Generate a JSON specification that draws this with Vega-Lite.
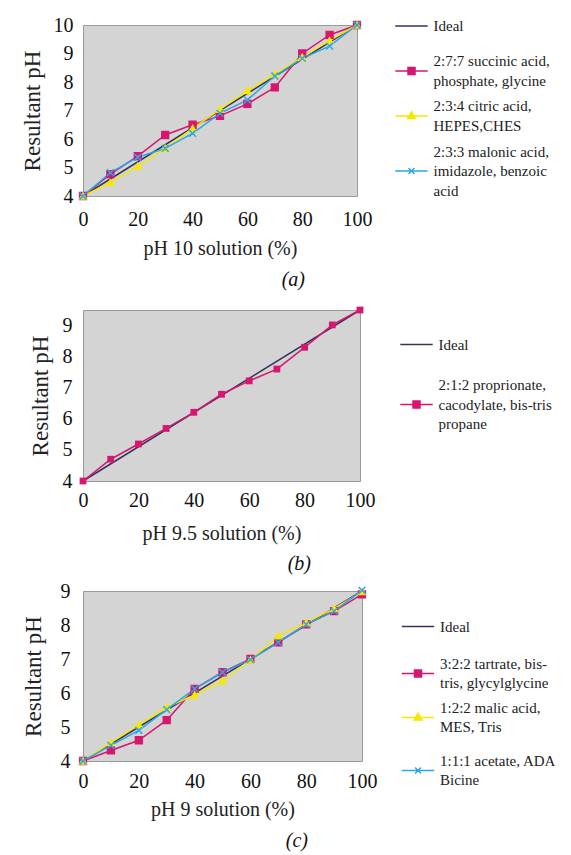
{
  "$schema": "https://vega.github.io/schema/vega-lite/v6.json",
  "padding": {"left": 20, "top": 5, "right": 0, "bottom": 0},
  "background": "white",
  "config": {
    "font": "Liberation Serif",
    "view": {"fill": "#d4d4d4", "stroke": "#9a9a9a", "strokeWidth": 1},
    "axis": {"grid": false, "domain": false, "ticks": false, "labelFlush": false, "labelFontSize": 20, "labelColor": "#111", "titleFontSize": 20, "titleFontWeight": "normal", "titleColor": "#222", "labelFont": "Liberation Serif", "titleFont": "Liberation Serif"},
    "axisY": {"titleFontSize": 23},
    "title": {"fontSize": 20, "fontStyle": "italic", "fontWeight": "normal", "color": "#111", "font": "Liberation Serif", "frame": "group"},
    "legend": {"labelFont": "Liberation Serif", "labelFontSize": 15, "labelColor": "#222", "labelLimit": 400, "symbolSize": 1521, "labelOffset": 1.5, "rowPadding": -2}
  },
  "resolve": {"scale": {"color": "independent", "shape": "independent", "stroke": "independent"}, "legend": {"color": "independent"}},
  "vconcat": [
    {
      "spacing": 15,
      "resolve": {"scale": {"color": "independent", "shape": "independent", "stroke": "independent"}, "legend": {"color": "independent"}},
      "vconcat": [
        {
          "width": 274, "height": 171,
          "title": {"text": "(a)", "orient": "bottom", "anchor": "end", "dx": -52, "offset": 12},
          "data": {"values": [
            {"series": "Ideal", "pct": 0, "ph": 4}, {"series": "Ideal", "pct": 100, "ph": 10},
            {"series": "2:7:7 succinic acid,|phosphate, glycine", "pct": 0, "ph": 4},
            {"series": "2:7:7 succinic acid,|phosphate, glycine", "pct": 10, "ph": 4.77},
            {"series": "2:7:7 succinic acid,|phosphate, glycine", "pct": 20, "ph": 5.4},
            {"series": "2:7:7 succinic acid,|phosphate, glycine", "pct": 30, "ph": 6.14},
            {"series": "2:7:7 succinic acid,|phosphate, glycine", "pct": 40, "ph": 6.5},
            {"series": "2:7:7 succinic acid,|phosphate, glycine", "pct": 50, "ph": 6.81},
            {"series": "2:7:7 succinic acid,|phosphate, glycine", "pct": 60, "ph": 7.23},
            {"series": "2:7:7 succinic acid,|phosphate, glycine", "pct": 70, "ph": 7.81},
            {"series": "2:7:7 succinic acid,|phosphate, glycine", "pct": 80, "ph": 9.0},
            {"series": "2:7:7 succinic acid,|phosphate, glycine", "pct": 90, "ph": 9.65},
            {"series": "2:7:7 succinic acid,|phosphate, glycine", "pct": 100, "ph": 10},
            {"series": "2:3:4 citric acid,|HEPES,CHES", "pct": 0, "ph": 4},
            {"series": "2:3:4 citric acid,|HEPES,CHES", "pct": 10, "ph": 4.47},
            {"series": "2:3:4 citric acid,|HEPES,CHES", "pct": 20, "ph": 5.05},
            {"series": "2:3:4 citric acid,|HEPES,CHES", "pct": 30, "ph": 5.67},
            {"series": "2:3:4 citric acid,|HEPES,CHES", "pct": 40, "ph": 6.37},
            {"series": "2:3:4 citric acid,|HEPES,CHES", "pct": 50, "ph": 7.04},
            {"series": "2:3:4 citric acid,|HEPES,CHES", "pct": 60, "ph": 7.7},
            {"series": "2:3:4 citric acid,|HEPES,CHES", "pct": 70, "ph": 8.28},
            {"series": "2:3:4 citric acid,|HEPES,CHES", "pct": 80, "ph": 8.87},
            {"series": "2:3:4 citric acid,|HEPES,CHES", "pct": 90, "ph": 9.45},
            {"series": "2:3:4 citric acid,|HEPES,CHES", "pct": 100, "ph": 10},
            {"series": "2:3:3 malonic acid,|imidazole, benzoic|acid", "pct": 0, "ph": 4},
            {"series": "2:3:3 malonic acid,|imidazole, benzoic|acid", "pct": 10, "ph": 4.82},
            {"series": "2:3:3 malonic acid,|imidazole, benzoic|acid", "pct": 20, "ph": 5.36},
            {"series": "2:3:3 malonic acid,|imidazole, benzoic|acid", "pct": 30, "ph": 5.67},
            {"series": "2:3:3 malonic acid,|imidazole, benzoic|acid", "pct": 40, "ph": 6.2},
            {"series": "2:3:3 malonic acid,|imidazole, benzoic|acid", "pct": 50, "ph": 6.9},
            {"series": "2:3:3 malonic acid,|imidazole, benzoic|acid", "pct": 60, "ph": 7.37},
            {"series": "2:3:3 malonic acid,|imidazole, benzoic|acid", "pct": 70, "ph": 8.21},
            {"series": "2:3:3 malonic acid,|imidazole, benzoic|acid", "pct": 80, "ph": 8.83},
            {"series": "2:3:3 malonic acid,|imidazole, benzoic|acid", "pct": 90, "ph": 9.26},
            {"series": "2:3:3 malonic acid,|imidazole, benzoic|acid", "pct": 100, "ph": 10}
          ]},
          "encoding": {
            "x": {"field": "pct", "type": "quantitative", "scale": {"domain": [0, 100], "nice": false}, "axis": {"values": [0, 20, 40, 60, 80, 100], "title": "pH 10 solution (%)", "labelPadding": 13, "titlePadding": 9}},
            "y": {"field": "ph", "type": "quantitative", "scale": {"domain": [4, 10], "nice": false, "zero": false}, "axis": {"values": [4, 5, 6, 7, 8, 9, 10], "title": "Resultant pH", "labelPadding": 10, "titlePadding": 9}},
            "color": {"field": "series", "type": "nominal", "sort": null,
              "scale": {"domain": ["Ideal", "2:7:7 succinic acid,|phosphate, glycine", "2:3:4 citric acid,|HEPES,CHES", "2:3:3 malonic acid,|imidazole, benzoic|acid"], "range": ["#35325f", "#d6166f", "#f5e800", "#2aa8e8"]},
              "legend": {"title": null, "orient": "none", "legendX": 308, "legendY": -19.5, "labelExpr": "split(datum.label, '|')",
                "encode": {
                  "symbols": {"update": {
                    "shape": {"signal": "datum.index == 0 ? 'M-0.83,0H0.83M0,1.07L0,1.07' : datum.index == 1 ? 'M-0.83,0H0.83M-0.18,-0.18H0.18V0.18H-0.18ZM0,1.1L0,1.1' : datum.index == 2 ? 'M-0.83,0H0.83M0,-0.22L0.2,0.13H-0.2ZM0,1.38L0,1.38' : 'M-0.83,0H0.83M-0.15,-0.15L0.15,0.15M-0.15,0.15L0.15,-0.15'"},
                    "stroke": {"signal": "datum.index == 0 ? '#6a6290' : datum.index == 1 ? '#d6166f' : datum.index == 2 ? '#f5e800' : '#2aa8e8'"},
                    "fill": {"signal": "datum.index == 1 ? '#d6166f' : datum.index == 2 ? '#f5e800' : 'transparent'"},
                    "strokeWidth": {"value": 1.5}, "opacity": {"value": 1}
                  }},
                  "labels": {"update": {"lineHeight": {"value": 19.5}, "dy": {"signal": "-(length(split(datum.label, '|')) - 1) * 9.75"}}}
                }}
            }
          },
          "layer": [
            {"mark": {"type": "line", "strokeWidth": 1.5}},
            {"transform": [{"filter": "datum.series != 'Ideal'"}],
             "mark": {"type": "point", "filled": true, "opacity": 1, "strokeWidth": 1.5},
             "encoding": {
               "shape": {"field": "series", "type": "nominal", "scale": {"domain": ["2:7:7 succinic acid,|phosphate, glycine", "2:3:4 citric acid,|HEPES,CHES", "2:3:3 malonic acid,|imidazole, benzoic|acid"], "range": ["square", "triangle-up", "M-1,-1L1,1M-1,1L1,-1"]}, "legend": null},
               "stroke": {"field": "series", "type": "nominal", "scale": {"domain": ["2:7:7 succinic acid,|phosphate, glycine", "2:3:4 citric acid,|HEPES,CHES", "2:3:3 malonic acid,|imidazole, benzoic|acid"], "range": ["#d6166f", "#f5e800", "#2aa8e8"]}, "legend": null},
               "size": {"value": 46}
             }}
          ]
        },
        {
          "width": 277, "height": 171,
          "title": {"text": "(b)", "orient": "bottom", "anchor": "end", "dx": -49, "offset": 11},
          "data": {"values": [
            {"series": "Ideal", "pct": 0, "ph": 4}, {"series": "Ideal", "pct": 100, "ph": 9.5},
            {"series": "2:1:2 proprionate,|cacodylate, bis-tris|propane", "pct": 0, "ph": 4},
            {"series": "2:1:2 proprionate,|cacodylate, bis-tris|propane", "pct": 10, "ph": 4.7},
            {"series": "2:1:2 proprionate,|cacodylate, bis-tris|propane", "pct": 20, "ph": 5.19},
            {"series": "2:1:2 proprionate,|cacodylate, bis-tris|propane", "pct": 30, "ph": 5.69},
            {"series": "2:1:2 proprionate,|cacodylate, bis-tris|propane", "pct": 40, "ph": 6.21},
            {"series": "2:1:2 proprionate,|cacodylate, bis-tris|propane", "pct": 50, "ph": 6.79},
            {"series": "2:1:2 proprionate,|cacodylate, bis-tris|propane", "pct": 60, "ph": 7.22},
            {"series": "2:1:2 proprionate,|cacodylate, bis-tris|propane", "pct": 70, "ph": 7.6},
            {"series": "2:1:2 proprionate,|cacodylate, bis-tris|propane", "pct": 80, "ph": 8.3},
            {"series": "2:1:2 proprionate,|cacodylate, bis-tris|propane", "pct": 90, "ph": 9.02},
            {"series": "2:1:2 proprionate,|cacodylate, bis-tris|propane", "pct": 100, "ph": 9.5}
          ]},
          "encoding": {
            "x": {"field": "pct", "type": "quantitative", "scale": {"domain": [0, 100], "nice": false}, "axis": {"values": [0, 20, 40, 60, 80, 100], "title": "pH 9.5 solution (%)", "labelPadding": 9, "titlePadding": 13}},
            "y": {"field": "ph", "type": "quantitative", "scale": {"domain": [4, 9.5], "nice": false, "zero": false}, "axis": {"values": [4, 5, 6, 7, 8, 9], "title": "Resultant pH", "labelPadding": 11, "titlePadding": 10}},
            "color": {"field": "series", "type": "nominal", "sort": null,
              "scale": {"domain": ["Ideal", "2:1:2 proprionate,|cacodylate, bis-tris|propane"], "range": ["#35325f", "#d6166f"]},
              "legend": {"title": null, "orient": "none", "legendX": 313, "legendY": 14, "labelExpr": "split(datum.label, '|')",
                "encode": {
                  "symbols": {"update": {
                    "shape": {"signal": "datum.index == 0 ? 'M-0.83,0H0.83M0,1.65L0,1.65' : 'M-0.83,0H0.83M-0.18,-0.18H0.18V0.18H-0.18Z'"},
                    "stroke": {"signal": "datum.index == 0 ? '#6a6290' : '#d6166f'"},
                    "fill": {"signal": "datum.index == 1 ? '#d6166f' : 'transparent'"},
                    "strokeWidth": {"value": 1.5}, "opacity": {"value": 1}
                  }},
                  "labels": {"update": {"lineHeight": {"value": 19.5}, "dy": {"signal": "-(length(split(datum.label, '|')) - 1) * 9.75"}}}
                }}
            }
          },
          "layer": [
            {"mark": {"type": "line", "strokeWidth": 1.5}},
            {"transform": [{"filter": "datum.series != 'Ideal'"}],
             "mark": {"type": "point", "filled": true, "opacity": 1, "shape": "square", "size": 46}}
          ]
        }
      ]
    },
    {
      "width": 279, "height": 170,
      "title": {"text": "(c)", "orient": "bottom", "anchor": "end", "dx": -54, "offset": 12},
      "data": {"values": [
        {"series": "Ideal", "pct": 0, "ph": 4}, {"series": "Ideal", "pct": 100, "ph": 9},
        {"series": "3:2:2 tartrate, bis-|tris, glycylglycine", "pct": 0, "ph": 4},
        {"series": "3:2:2 tartrate, bis-|tris, glycylglycine", "pct": 10, "ph": 4.31},
        {"series": "3:2:2 tartrate, bis-|tris, glycylglycine", "pct": 20, "ph": 4.61},
        {"series": "3:2:2 tartrate, bis-|tris, glycylglycine", "pct": 30, "ph": 5.2},
        {"series": "3:2:2 tartrate, bis-|tris, glycylglycine", "pct": 40, "ph": 6.12},
        {"series": "3:2:2 tartrate, bis-|tris, glycylglycine", "pct": 50, "ph": 6.61},
        {"series": "3:2:2 tartrate, bis-|tris, glycylglycine", "pct": 60, "ph": 7.0},
        {"series": "3:2:2 tartrate, bis-|tris, glycylglycine", "pct": 70, "ph": 7.49},
        {"series": "3:2:2 tartrate, bis-|tris, glycylglycine", "pct": 80, "ph": 8.02},
        {"series": "3:2:2 tartrate, bis-|tris, glycylglycine", "pct": 90, "ph": 8.41},
        {"series": "3:2:2 tartrate, bis-|tris, glycylglycine", "pct": 100, "ph": 8.9},
        {"series": "1:2:2 malic acid,|MES, Tris", "pct": 0, "ph": 4},
        {"series": "1:2:2 malic acid,|MES, Tris", "pct": 10, "ph": 4.54},
        {"series": "1:2:2 malic acid,|MES, Tris", "pct": 20, "ph": 5.07},
        {"series": "1:2:2 malic acid,|MES, Tris", "pct": 30, "ph": 5.58},
        {"series": "1:2:2 malic acid,|MES, Tris", "pct": 40, "ph": 5.94},
        {"series": "1:2:2 malic acid,|MES, Tris", "pct": 50, "ph": 6.36},
        {"series": "1:2:2 malic acid,|MES, Tris", "pct": 60, "ph": 6.97},
        {"series": "1:2:2 malic acid,|MES, Tris", "pct": 70, "ph": 7.68},
        {"series": "1:2:2 malic acid,|MES, Tris", "pct": 80, "ph": 8.07},
        {"series": "1:2:2 malic acid,|MES, Tris", "pct": 90, "ph": 8.48},
        {"series": "1:2:2 malic acid,|MES, Tris", "pct": 100, "ph": 8.98},
        {"series": "1:1:1 acetate, ADA|Bicine", "pct": 0, "ph": 4},
        {"series": "1:1:1 acetate, ADA|Bicine", "pct": 10, "ph": 4.46},
        {"series": "1:1:1 acetate, ADA|Bicine", "pct": 20, "ph": 4.9},
        {"series": "1:1:1 acetate, ADA|Bicine", "pct": 30, "ph": 5.51},
        {"series": "1:1:1 acetate, ADA|Bicine", "pct": 40, "ph": 6.12},
        {"series": "1:1:1 acetate, ADA|Bicine", "pct": 50, "ph": 6.61},
        {"series": "1:1:1 acetate, ADA|Bicine", "pct": 60, "ph": 6.98},
        {"series": "1:1:1 acetate, ADA|Bicine", "pct": 70, "ph": 7.49},
        {"series": "1:1:1 acetate, ADA|Bicine", "pct": 80, "ph": 8.02},
        {"series": "1:1:1 acetate, ADA|Bicine", "pct": 90, "ph": 8.41},
        {"series": "1:1:1 acetate, ADA|Bicine", "pct": 100, "ph": 9.02}
      ]},
      "encoding": {
        "x": {"field": "pct", "type": "quantitative", "scale": {"domain": [0, 100], "nice": false}, "axis": {"values": [0, 20, 40, 60, 80, 100], "title": "pH 9 solution (%)", "labelPadding": 10, "titlePadding": 8}},
        "y": {"field": "ph", "type": "quantitative", "scale": {"domain": [4, 9], "nice": false, "zero": false}, "axis": {"values": [4, 5, 6, 7, 8, 9], "title": "Resultant pH", "labelPadding": 13, "titlePadding": 15}},
        "color": {"field": "series", "type": "nominal", "sort": null,
          "scale": {"domain": ["Ideal", "3:2:2 tartrate, bis-|tris, glycylglycine", "1:2:2 malic acid,|MES, Tris", "1:1:1 acetate, ADA|Bicine"], "range": ["#35325f", "#d6166f", "#f5e800", "#2aa8e8"]},
          "legend": {"title": null, "orient": "none", "legendX": 314.5, "legendY": 15, "labelExpr": "split(datum.label, '|')",
            "encode": {
              "symbols": {"update": {
                "shape": {"signal": "datum.index == 0 ? 'M-0.83,0H0.83M0,1.18L0,1.18' : datum.index == 1 ? 'M-0.83,0H0.83M-0.18,-0.18H0.18V0.18H-0.18ZM0,1.03L0,1.03' : datum.index == 2 ? 'M-0.83,0H0.83M0,-0.22L0.2,0.13H-0.2ZM0,1.5L0,1.5' : 'M-0.83,0H0.83M-0.15,-0.15L0.15,0.15M-0.15,0.15L0.15,-0.15'"},
                "stroke": {"signal": "datum.index == 0 ? '#6a6290' : datum.index == 1 ? '#d6166f' : datum.index == 2 ? '#f5e800' : '#2aa8e8'"},
                "fill": {"signal": "datum.index == 1 ? '#d6166f' : datum.index == 2 ? '#f5e800' : 'transparent'"},
                "strokeWidth": {"value": 1.5}, "opacity": {"value": 1}
              }},
              "labels": {"update": {"lineHeight": {"value": 19.5}, "dy": {"signal": "-(length(split(datum.label, '|')) - 1) * 9.75"}}}
            }}
        }
      },
      "layer": [
        {"mark": {"type": "line", "strokeWidth": 1.5}},
        {"transform": [{"filter": "datum.series != 'Ideal'"}],
         "mark": {"type": "point", "filled": true, "opacity": 1, "strokeWidth": 1.5},
         "encoding": {
           "shape": {"field": "series", "type": "nominal", "scale": {"domain": ["3:2:2 tartrate, bis-|tris, glycylglycine", "1:2:2 malic acid,|MES, Tris", "1:1:1 acetate, ADA|Bicine"], "range": ["square", "triangle-up", "M-1,-1L1,1M-1,1L1,-1"]}, "legend": null},
           "stroke": {"field": "series", "type": "nominal", "scale": {"domain": ["3:2:2 tartrate, bis-|tris, glycylglycine", "1:2:2 malic acid,|MES, Tris", "1:1:1 acetate, ADA|Bicine"], "range": ["#d6166f", "#f5e800", "#2aa8e8"]}, "legend": null},
           "size": {"value": 46}
         }}
      ]
    }
  ],
  "spacing": 5
}
